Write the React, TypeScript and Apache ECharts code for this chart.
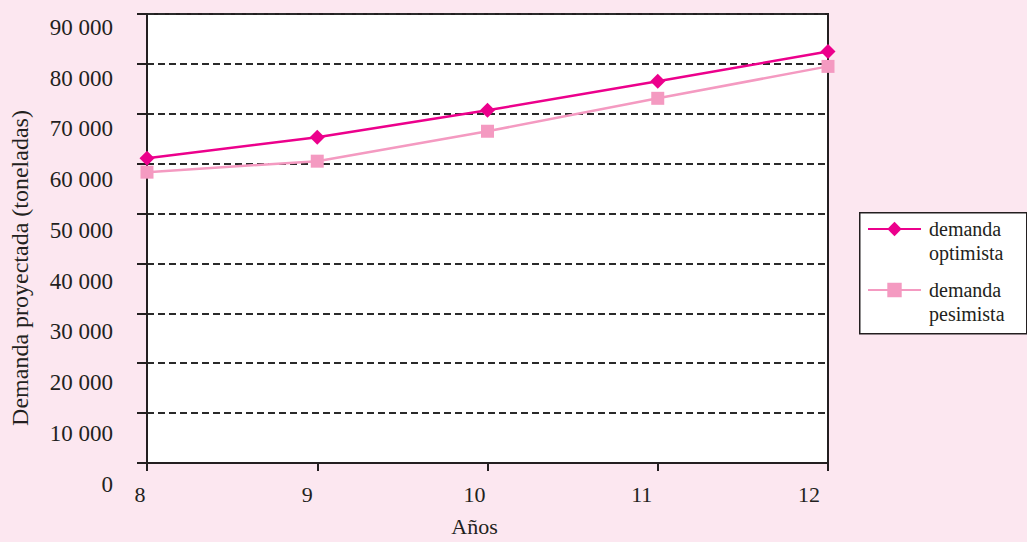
import React, { useEffect, useRef } from "react";
import * as echarts from "echarts";

const years = ["8", "9", "10", "11", "12"];
const optimista = [61100, 65300, 70700, 76500, 82500];
const pesimista = [58300, 60500, 66500, 73100, 79500];
const yTicks = [0, 10000, 20000, 30000, 40000, 50000, 60000, 70000, 80000, 90000];
const seriesNames = ["demanda\noptimista", "demanda\npesimista"];

const FONT = "'Liberation Serif', 'DejaVu Serif', serif";
const INK = "#231f20";
const C_OPT = "#ec008c";
const C_PES = "#f49ac1";

const fmt = (v: number) => (v === 0 ? "0" : `${Math.round(v / 1000)} 000`);

export default function App() {
  const ref = useRef<HTMLDivElement>(null);
  useEffect(() => {
    if (!ref.current) return;
    const chart = echarts.init(ref.current, undefined, { renderer: "svg" });
    chart.setOption({
      animation: false,
      backgroundColor: "#fce7f0",
      textStyle: { fontFamily: FONT, color: INK },
      grid: [
        {
          left: 147,
          right: 199,
          top: 14,
          bottom: 79,
          show: true,
          backgroundColor: "#ffffff",
          borderColor: INK,
          borderWidth: 2,
        },
        { left: 140, right: 218, top: 27.5, bottom: 43, show: false },
        { left: 147, right: 199, top: 113, bottom: 119, show: false },
      ],
      graphic: [
        {
          type: "rect",
          left: 859,
          top: 212,
          shape: { width: 167, height: 121 },
          style: { fill: "#ffffff", stroke: INK, lineWidth: 1.5 },
          z: 0,
        },
      ],
      xAxis: [
        {
          gridIndex: 0,
          type: "category",
          data: years,
          boundaryGap: false,
          axisLine: { lineStyle: { color: INK, width: 2 } },
          axisTick: { show: true, length: 8, lineStyle: { color: INK, width: 2 } },
          axisLabel: { show: false },
          splitLine: { show: false },
        },
        {
          gridIndex: 1,
          type: "category",
          data: years,
          boundaryGap: false,
          axisLine: { show: false },
          axisTick: { show: false },
          axisLabel: {
            show: true,
            fontSize: 22,
            fontFamily: FONT,
            color: INK,
            verticalAlign: "middle",
            margin: 10,
          },
          name: "Años",
          nameLocation: "middle",
          nameGap: 42,
          nameTextStyle: { fontSize: 22, fontFamily: FONT, color: INK, verticalAlign: "middle" },
        },
        {
          gridIndex: 2,
          type: "category",
          data: years,
          show: false,
        },
      ],
      yAxis: [
        {
          gridIndex: 0,
          type: "value",
          min: 0,
          max: 90000,
          interval: 10000,
          axisLine: { show: true, lineStyle: { color: INK, width: 2 } },
          axisTick: { show: true, length: 10, lineStyle: { color: INK, width: 2 } },
          axisLabel: { show: false },
          splitLine: { show: true, lineStyle: { color: "#2a2a2a", width: 1.8, type: [7, 4] } },
        },
        {
          gridIndex: 1,
          type: "value",
          min: 0,
          max: 90000,
          interval: 10000,
          axisLine: { show: false },
          axisTick: { show: false },
          splitLine: { show: false },
          axisLabel: {
            show: true,
            fontSize: 23,
            fontFamily: FONT,
            color: INK,
            margin: 27,
            customValues: yTicks,
            formatter: (v: number) => fmt(v),
          },
        },
        {
          gridIndex: 2,
          type: "value",
          min: 0,
          max: 1,
          axisLine: { show: false },
          axisTick: { show: false },
          splitLine: { show: false },
          axisLabel: { show: false },
          name: "Demanda proyectada (toneladas)",
          nameLocation: "middle",
          nameGap: 120,
          nameTextStyle: { fontSize: 24, fontFamily: FONT, color: INK },
        },
      ],
      legend: {
        orient: "vertical",
        left: 867,
        top: 195,
        padding: 0,
        itemWidth: 53,
        itemHeight: 18,
        itemGap: -7,
        formatter: (name: string) => {
          const parts = name.split("\n");
          return `{t|\u00a0}\n{t|${parts[0]}}\n{t|${parts[1]}}`;
        },
        textStyle: {
          fontSize: 20,
          fontFamily: FONT,
          color: INK,
          rich: {
            t: { fontSize: 20, fontFamily: FONT, color: INK, lineHeight: 24, padding: [0, 0, 0, 3] },
          },
        },
        data: seriesNames.map((n) => ({ name: n })),
        z: 5,
      },
      series: [
        {
          name: seriesNames[0],
          type: "line",
          xAxisIndex: 0,
          yAxisIndex: 0,
          data: optimista,
          symbol: "diamond",
          symbolSize: 15,
          lineStyle: { color: C_OPT, width: 2.5 },
          itemStyle: { color: C_OPT },
          z: 3,
        },
        {
          name: seriesNames[1],
          type: "line",
          xAxisIndex: 0,
          yAxisIndex: 0,
          data: pesimista,
          symbol: "rect",
          symbolSize: 13,
          lineStyle: { color: C_PES, width: 2.5 },
          itemStyle: { color: C_PES },
          z: 2,
        },
      ],
    });
    return () => chart.dispose();
  }, []);
  return <div ref={ref} style={{ width: 1027, height: 542, position: "absolute", left: 0, top: 0 }} />;
}
